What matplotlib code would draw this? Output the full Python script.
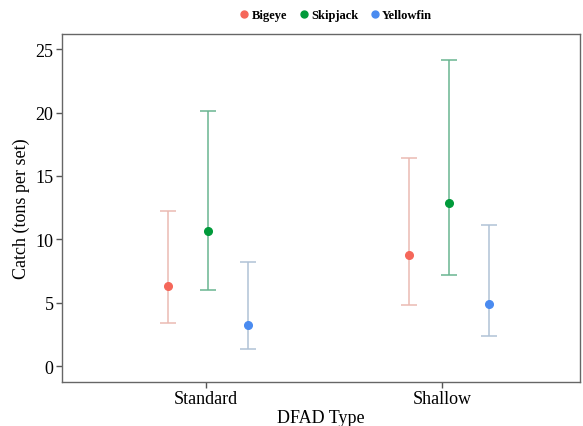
import matplotlib
matplotlib.use("Agg")
import matplotlib.pyplot as plt
import numpy as np
from matplotlib.lines import Line2D

plt.rcParams['font.family'] = ['Liberation Serif', 'DejaVu Serif']

categories = ["Standard", "Shallow"]
species = ["Bigeye", "Skipjack", "Yellowfin"]
means = {
    "Bigeye":    [6.3, 8.8],
    "Skipjack":  [10.65, 12.9],
    "Yellowfin": [3.25, 4.9],
}
lower = {
    "Bigeye":    [3.4, 4.8],
    "Skipjack":  [6.0, 7.2],
    "Yellowfin": [1.37, 2.37],
}
upper = {
    "Bigeye":    [12.2, 16.4],
    "Skipjack":  [20.1, 24.15],
    "Yellowfin": [8.2, 11.1],
}
yticks = [0, 5, 10, 15, 20, 25]

dot_colors = {"Bigeye": "#F5675A", "Skipjack": "#009A3A", "Yellowfin": "#4A8BF0"}
bar_colors = {"Bigeye": "#EBBAB3", "Skipjack": "#6AB591", "Yellowfin": "#B0C2D6"}

fig = plt.figure(figsize=(5.83, 4.27), dpi=100)
ax = fig.add_axes([0.106, 0.103, 0.889, 0.815])

x = np.arange(len(categories))
offsets = [-0.17, 0.0, 0.17]
shift = [0.01, 0.03]
for sp, off in zip(species, offsets):
    m = np.array(means[sp])
    lo = np.array(lower[sp])
    hi = np.array(upper[sp])
    xs = x + off + np.array(shift)
    ax.errorbar(xs, m, yerr=[m - lo, hi - m], fmt='none', ecolor=bar_colors[sp],
                elinewidth=1.1, capsize=5.5, capthick=1.1, zorder=2)
    ax.plot(xs, m, 'o', color=dot_colors[sp], markersize=5.5, zorder=3)

ax.set_xlim(-0.61, 1.585)
ax.set_ylim(-1.26, 26.2)
ax.set_xticks(x)
ax.set_xticklabels(categories)
ax.set_yticks(yticks)
ax.tick_params(labelsize=13, color='#555555', length=4, width=1, pad=2)
for s in ax.spines.values():
    s.set_color('#666666')
    s.set_linewidth(1.0)
ax.set_xlabel("DFAD Type", fontsize=13, labelpad=1)
ax.set_ylabel("Catch (tons per set)", fontsize=13, labelpad=4)

handles = [Line2D([], [], marker='o', linestyle='none', color=dot_colors[sp], markersize=5)
           for sp in species]
fig.legend(handles, species, loc='center', bbox_to_anchor=(0.575, 0.962), ncol=3,
           frameon=False, prop={'weight': 'bold', 'size': 9}, handletextpad=0.1,
           columnspacing=0.8, handlelength=1.0)

fig.savefig("out.png", dpi=100)
